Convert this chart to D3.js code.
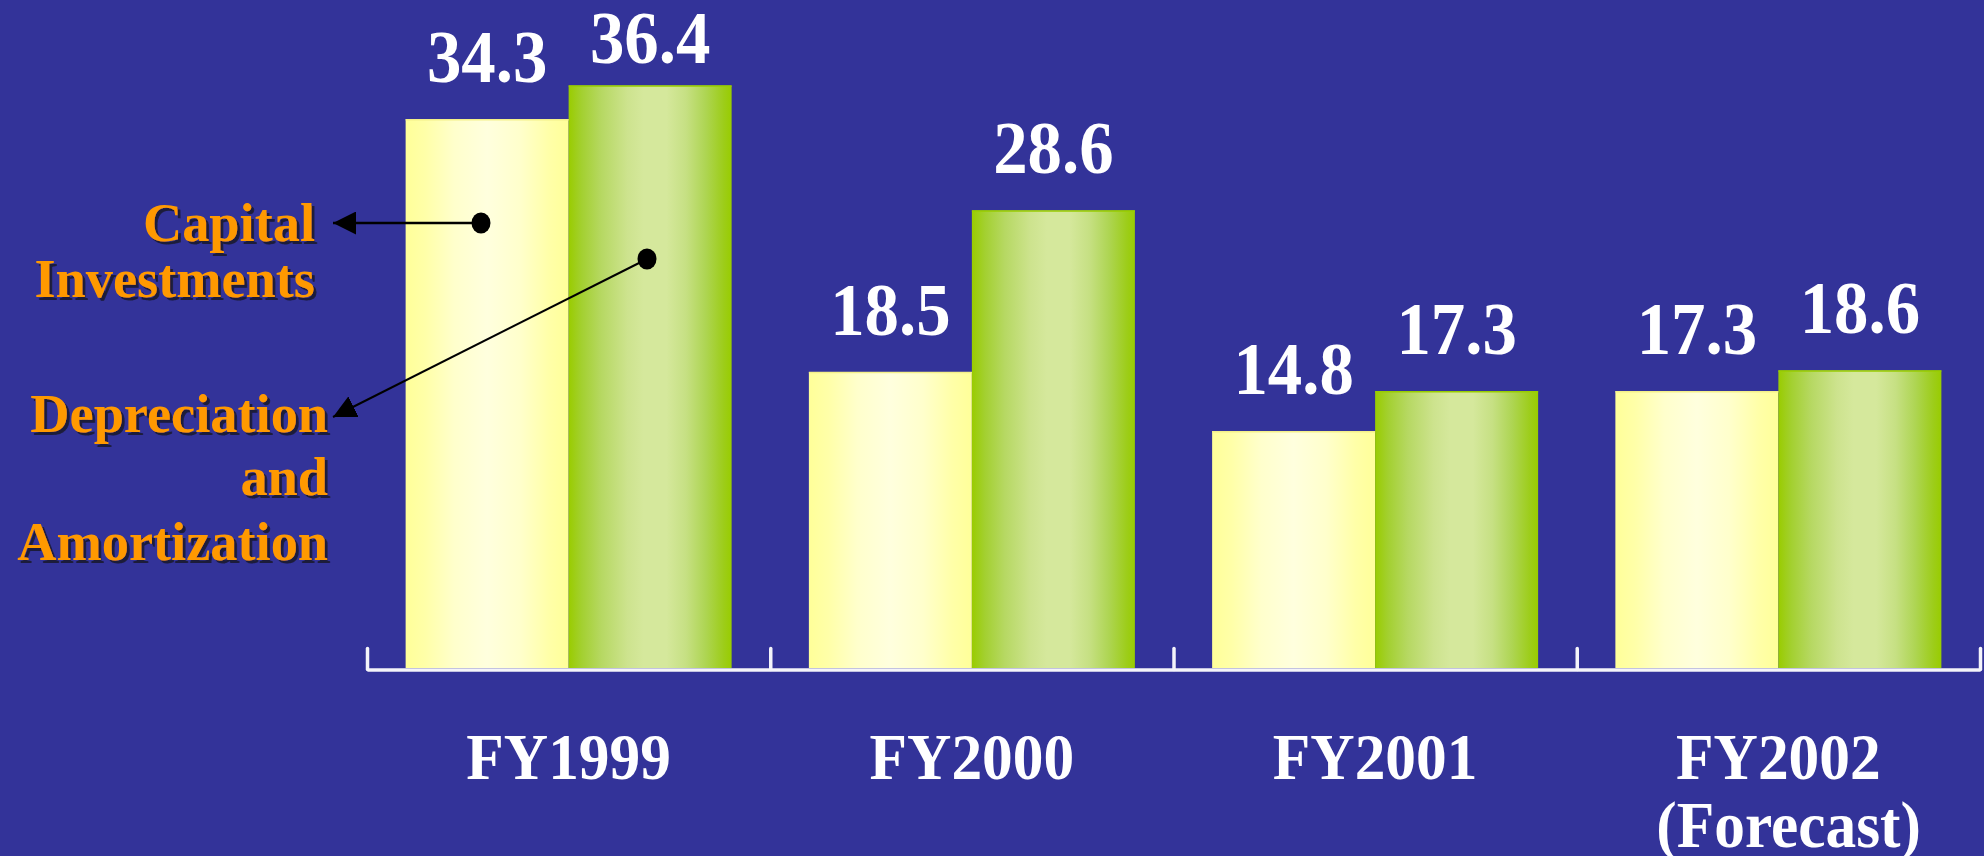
<!DOCTYPE html>
<html>
<head>
<meta charset="utf-8">
<script src="https://cdn.jsdelivr.net/npm/d3@7"></script>
<style>
  html, body { margin: 0; padding: 0; background: #333399; }
  svg { display: block; }
</style>
</head>
<body>
<svg id="chart" width="1984" height="856"></svg>
<script>
// Capital investments vs. depreciation & amortization, by fiscal year
const categories = ["FY1999", "FY2000", "FY2001", "FY2002"];
const categoryLabels = [["FY1999"], ["FY2000"], ["FY2001"], ["FY2002", "(Forecast)"]];
const seriesNames = ["Capital Investments", "Depreciation and Amortization"];
const capitalInvestments = [34.3, 18.5, 14.8, 17.3];
const depreciation = [36.4, 28.6, 17.3, 18.6];
const legendLines = [["Capital", "Investments"], ["Depreciation", "and", "Amortization"]];

const rows = categories.map((c, i) => ({
  category: c,
  values: [capitalInvestments[i], depreciation[i]]
}));

const svg = d3.select("#chart");
const W = 1984, H = 856;
svg.append("rect").attr("width", W).attr("height", H).attr("fill", "#333399");

const baseY = 668;
const x0 = d3.scaleBand().domain(categories).range([367, 1980]).padding(0);
const x1 = d3.scaleBand().domain([0, 1]).range([0, x0.bandwidth()]).paddingInner(0).paddingOuter(0.237);
const y = d3.scaleLinear().domain([0, 40]).range([baseY, baseY - 640]);

// cylinder-like shading for each series
const defs = svg.append("defs");
const yellowGrad = defs.append("linearGradient").attr("id", "gradYellow").attr("x1", "0").attr("x2", "1").attr("y1", "0").attr("y2", "0");
[[0, "#FFFF99"], [0.12, "#FFFFA8"], [0.3, "#FFFFCC"], [0.5, "#FFFFDE"], [0.7, "#FFFFCC"], [0.88, "#FFFFA8"], [1, "#FFFF99"]]
  .forEach(([o, c]) => yellowGrad.append("stop").attr("offset", o).attr("stop-color", c));
const greenGrad = defs.append("linearGradient").attr("id", "gradGreen").attr("x1", "0").attr("x2", "1").attr("y1", "0").attr("y2", "0");
[[0, "#99CC00"], [0.08, "#A3D030"], [0.2, "#B6D862"], [0.36, "#CDE38E"], [0.46, "#D5E89C"], [0.6, "#D5E89C"], [0.72, "#C6E083"], [0.84, "#AED553"], [0.95, "#9DCD1A"], [1, "#99CC00"]]
  .forEach(([o, c]) => greenGrad.append("stop").attr("offset", o).attr("stop-color", c));
const fills = ["url(#gradYellow)", "url(#gradGreen)"];
const topEdge = ["#F4F08A", "#99CC00"];

// hard drop shadow for the legend captions
const shadow = defs.append("filter").attr("id", "textShadow")
  .attr("x", "-10%").attr("y", "-20%").attr("width", "120%").attr("height", "140%");
shadow.append("feDropShadow")
  .attr("dx", 3).attr("dy", 3).attr("stdDeviation", 0)
  .attr("flood-color", "#1c1c3a").attr("flood-opacity", 1);

// arrowhead marker
defs.append("marker").attr("id", "arrow")
  .attr("viewBox", "0 0 10 10").attr("refX", 10).attr("refY", 5)
  .attr("markerUnits", "userSpaceOnUse")
  .attr("markerWidth", 23).attr("markerHeight", 23)
  .attr("orient", "auto")
  .append("path").attr("d", "M0,0 L10,5 L0,10 Z").attr("fill", "#000");

// bars
const groups = svg.selectAll("g.cat").data(rows).join("g")
  .attr("class", "cat")
  .attr("transform", d => `translate(${x0(d.category)},0)`);

groups.selectAll("rect.bar").data(d => d.values.map((v, k) => ({ v, k }))).join("rect")
  .attr("class", "bar")
  .attr("x", d => x1(d.k))
  .attr("width", x1.bandwidth())
  .attr("y", d => y(d.v))
  .attr("height", d => baseY - y(d.v))
  .attr("fill", d => fills[d.k]);

groups.selectAll("line.top").data(d => d.values.map((v, k) => ({ v, k }))).join("line")
  .attr("class", "top")
  .attr("x1", d => x1(d.k)).attr("x2", d => x1(d.k) + x1.bandwidth())
  .attr("y1", d => y(d.v) + 0.5).attr("y2", d => y(d.v) + 0.5)
  .attr("stroke", d => topEdge[d.k]).attr("stroke-width", 1.5);

// value labels
groups.selectAll("text.val").data(d => d.values.map((v, k) => ({ v, k }))).join("text")
  .attr("class", "val")
  .attr("transform", d => `translate(${x1(d.k) + x1.bandwidth() / 2},${Math.max(y(d.v) - 37, 63)}) scale(0.93,1)`)
  .attr("text-anchor", "middle")
  .attr("font-family", "'Liberation Serif', 'Times New Roman', serif")
  .attr("font-weight", "bold")
  .attr("font-size", 74)
  .attr("fill", "#FFFFFF")
  .text(d => d.v.toFixed(1));

// category axis with divider ticks
const divider = d3.scaleLinear().domain([0, categories.length]).range(x0.range());
const axis = svg.append("g").attr("transform", `translate(0,${baseY + 1.5})`)
  .call(d3.axisBottom(divider).tickValues(d3.range(categories.length + 1)).tickSizeInner(-21).tickSizeOuter(0).tickFormat(""));
axis.select(".domain").attr("stroke", "#F4F4FA").attr("stroke-width", 3.5);
axis.selectAll(".tick line").attr("stroke", "#F4F4FA").attr("stroke-width", 3.5).attr("stroke-linecap", "round");

// category labels
categories.forEach((c, i) => {
  const t = svg.append("text")
    .attr("transform", `translate(${x0(c) + x0.bandwidth() / 2},779) scale(0.93,1)`)
    .attr("text-anchor", "middle")
    .attr("font-family", "'Liberation Serif', 'Times New Roman', serif")
    .attr("font-weight", "bold")
    .attr("font-size", 66)
    .attr("fill", "#FFFFFF");
  categoryLabels[i].forEach((line, j) => {
    t.append("tspan").attr("x", j ? 11 : 0).attr("dy", j ? 68 : 0).text(line);
  });
});

// series legend with shadowed orange text and pointer arrows
const legendRight = [315, 328];
const legendBaselines = [[241, 297], [432, 495, 560]];
legendLines.forEach((lines, s) => {
  lines.forEach((line, j) => {
    svg.append("text")
      .attr("transform", `translate(${legendRight[s]},${legendBaselines[s][j]}) scale(0.97,1)`)
      .attr("text-anchor", "end")
      .attr("font-family", "'Liberation Serif', 'Times New Roman', serif")
      .attr("font-weight", "bold")
      .attr("font-size", 56)
      .attr("fill", "#FF9900")
      .attr("filter", "url(#textShadow)")
      .text(line);
  });
});

const pointers = [
  { from: [481, 223], to: [333, 223], w: 2.6 },
  { from: [647, 259], to: [333, 417], w: 2 }
];
pointers.forEach(p => {
  svg.append("line")
    .attr("x1", p.from[0]).attr("y1", p.from[1])
    .attr("x2", p.to[0]).attr("y2", p.to[1])
    .attr("stroke", "#000").attr("stroke-width", p.w)
    .attr("marker-end", "url(#arrow)");
  svg.append("ellipse")
    .attr("cx", p.from[0]).attr("cy", p.from[1])
    .attr("rx", 9.5).attr("ry", 10.5)
    .attr("fill", "#000");
});
</script>
</body>
</html>
